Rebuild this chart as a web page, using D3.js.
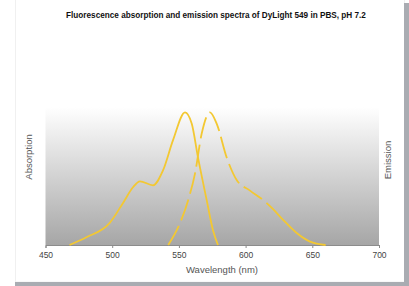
<!DOCTYPE html>
<html>
<head>
<meta charset="utf-8">
<script src="https://cdn.jsdelivr.net/npm/d3@7"></script>
<style>
  body { margin: 0; background: #fff; }
  svg { display: block; font-family: Arial, "Liberation Sans", sans-serif; }
</style>
</head>
<body>
<svg id="chart" width="409" height="286"></svg>
<script>
const titleText = "Fluorescence absorption and emission spectra of DyLight 549 in PBS, pH 7.2"
const xTicks = [450, 500, 550, 600, 650, 700]

// absorption (solid), relative to peak
const absNm  = [468, 481, 498, 508, 515.6, 520.8, 530.6, 538, 545.6, 554.6, 559.6, 564.3, 570.8, 575.6, 579.3]
const absVal = [0, 0.06, 0.165, 0.315, 0.435, 0.48, 0.45, 0.56, 0.79, 1.0, 0.915, 0.66, 0.34, 0.11, 0]

// emission (dashed), relative to peak
const emNm  = [542, 550.8, 557, 562.1, 567.1, 573.3, 578.3, 585.8, 593.3, 603.3, 613, 620.6, 628.1, 638.3, 648.3, 660]
const emVal = [0, 0.165, 0.34, 0.54, 0.84, 1.0, 0.915, 0.66, 0.49, 0.41, 0.34, 0.27, 0.19, 0.09, 0.025, 0]

const yellow = "#f3c832"

var svg = d3.select("#chart")

// frame + shadow
svg.append("rect").attr("x", 15.5).attr("y", -1).attr("width", 389).attr("height", 283)
    .attr("fill", "#fff").attr("stroke", "#f0f0f0")
svg.append("rect").attr("x", 404).attr("y", 3).attr("width", 5).attr("height", 283).attr("fill", "#a9acb2")
svg.append("rect").attr("x", 15).attr("y", 282).attr("width", 394).attr("height", 4).attr("fill", "#a9acb2")

// note: "top" clashes with window.top, so plot edges get their own names
var plotLeft = 45.5, plotRight = 379, plotTop = 107, plotBottom = 245

var x = d3.scaleLinear().domain([450, 700]).range([plotLeft, plotRight])
var y = d3.scaleLinear().domain([0, 1.04]).range([plotBottom, plotTop])

var grad = svg.append("defs").append("linearGradient")
    .attr("id", "bg").attr("x1", 0).attr("y1", 0).attr("x2", 0).attr("y2", 1)
grad.append("stop").attr("offset", "0%").attr("stop-color", "#ffffff")
grad.append("stop").attr("offset", "100%").attr("stop-color", "#a6a6a6")

svg.append("rect").attr("x", plotLeft).attr("y", plotTop)
    .attr("width", plotRight - plotLeft).attr("height", plotBottom - plotTop)
    .attr("fill", "url(#bg)")

// x axis
var axis = svg.append("g").attr("transform", "translate(0," + plotBottom + ")")
    .call(d3.axisBottom(x).tickValues(xTicks).tickSize(3).tickPadding(4))
axis.select(".domain").attr("stroke", "#8c8c8c")
axis.selectAll(".tick line").attr("stroke", "#8c8c8c")
axis.selectAll(".tick text").attr("fill", "#444").attr("font-size", 8.5)

var line = d3.line()
    .x(function (d) { return x(d[0]) })
    .y(function (d) { return y(d[1]) })
    .curve(d3.curveMonotoneX)

var absData = absNm.map(function (n, i) { return [n, absVal[i]] })
var emData = emNm.map(function (n, i) { return [n, emVal[i]] })

svg.append("path").datum(absData)
    .attr("d", line)
    .attr("fill", "none").attr("stroke", yellow).attr("stroke-width", 1.8)

var emPath = svg.append("path").datum(emData)
    .attr("d", line)
    .attr("fill", "none").attr("stroke", yellow).attr("stroke-width", 1.8)

// dashed up to ~600 nm, solid tail after that
var probe = svg.append("path").datum(emData.filter(function (d) { return d[0] <= 603.3 }))
    .attr("d", line).attr("fill", "none")
var dashedLen = probe.node().getTotalLength()
probe.remove()
var dashes = []
for (var s = 0; s < dashedLen; s += 28) dashes.push(22, 6)
dashes.push(2000, 0)
emPath.attr("stroke-dasharray", dashes.join(","))

// texts
svg.append("text").attr("x", 216).attr("y", 18)
    .attr("text-anchor", "middle").attr("font-size", 8.2).attr("font-weight", "bold")
    .attr("fill", "#111").text(titleText)

svg.append("text").attr("x", 222).attr("y", 273)
    .attr("text-anchor", "middle").attr("font-size", 9.5).attr("fill", "#555")
    .text("Wavelength (nm)")

svg.append("text").attr("transform", "translate(32,157) rotate(-90)")
    .attr("text-anchor", "middle").attr("font-size", 9.5).attr("fill", "#555")
    .text("Absorption")

svg.append("text").attr("transform", "translate(391,160) rotate(-90)")
    .attr("text-anchor", "middle").attr("font-size", 9.5).attr("fill", "#555")
    .text("Emission")
</script>
</body>
</html>
